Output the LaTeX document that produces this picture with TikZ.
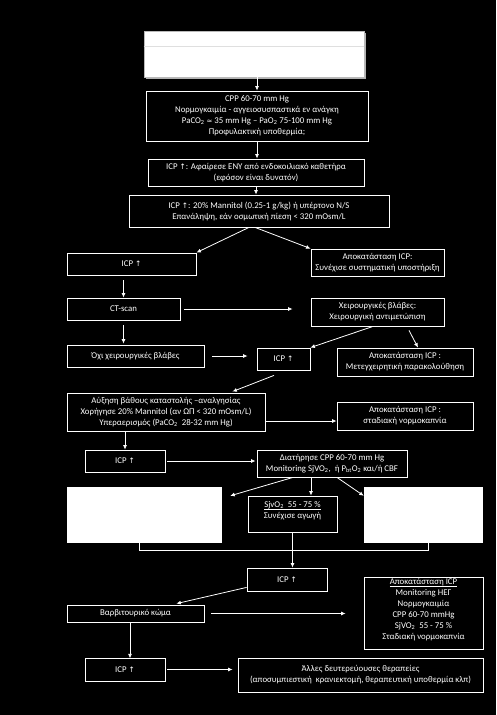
\documentclass[tikz,border=0pt]{standalone}
\usepackage{fontspec}
\setmainfont{Carlito}
\newfontfamily\arrowfont{DejaVu Sans}
\usepackage{tikz}
\usetikzlibrary{arrows.meta, positioning, calc}
\newcommand{\icpup}{ICP {\arrowfont\fontsize{7.5}{8}\selectfont ↑}}
\newcommand{\uln}[1]{\underline{\smash{#1}}}

\begin{document}
\begin{tikzpicture}[
    x=1pt, y=-1pt,
    >={Latex[length=4.5pt,width=4pt]},
    stepbox/.style={rectangle, draw=white, line width=0.8pt, fill=black, text=white, inner sep=0pt, align=center, font=\fontsize{8.8}{11}\selectfont},
    blank/.style={rectangle, draw=white, fill=white, inner sep=0pt},
    arr/.style={->, white, line width=0.8pt},
    link/.style={white, line width=0.8pt}
  ]

  \fill[black] (0,0) rectangle (496,715);

  % Title box
  \fill[gray!60] (146,33) rectangle (366,79);
  \node[rectangle, draw=gray!55, fill=white, line width=0.8pt, minimum width=220pt, minimum height=46pt] (title) at (254,54) {};
  \draw[gray!25, line width=0.8pt] ([yshift=8pt]title.west) -- ([yshift=8pt]title.east);

  % Main column
  \node[stepbox, minimum width=222pt, minimum height=50pt] (cpp) at (257,116) {CPP 60-70 mm Hg\\Νορμογκαιμία - αγγειοσυσπαστικά εν ανάγκη\\PaCO\textsubscript{2} {\arrowfont\fontsize{7}{8}\selectfont ≈} 35 mm Hg – PaO\textsubscript{2} 75-100 mm Hg\\Προφυλακτική υποθερμία;};
  \node[stepbox, minimum width=216pt, minimum height=27pt] (csf) at (256,172.5) {\icpup: Αφαίρεσε ΕΝΥ από ενδοκοιλιακό καθετήρα\\(εφόσον είναι δυνατόν)};
  \node[stepbox, minimum width=260pt, minimum height=32pt] (mannitol) at (259,211) {\icpup: 20\% Mannitol (0.25-1 g/kg) ή υπέρτονο N/S\\Επανάληψη, εάν οσμωτική πίεση < 320 mOsm/L};

  % ICP raised boxes
  \foreach \n/\x/\y/\w/\h in {icpA/131.5/264/129/22, icpB/283.5/359/53/22, icpC/125/461/80/22, icpD/287/579.5/80/23, icpE/125/669.5/80/23} {
    \node[stepbox, minimum width=\w pt, minimum height=\h pt] (\n) at (\x,\y) {\icpup};
  }

  % Left column
  \node[stepbox, minimum width=113pt, minimum height=22pt] (ct) at (123.5,309) {CT-scan};
  \node[stepbox, minimum width=137pt, minimum height=22pt] (nosurg) at (135.5,356) {Όχι χειρουργικές βλάβες};
  \node[stepbox, minimum width=198pt, minimum height=38pt] (deepen) at (166,412) {Αύξηση βάθους καταστολής –αναλγησίας\\Χορήγησε 20\% Mannitol (αν ΩΠ < 320 mOsm/L)\\Υπεραερισμός (PaCO\textsubscript{2}\ \ 28-32 mm Hg)};
  \node[stepbox, minimum width=137pt, minimum height=17pt] (barb) at (135.5,613.5) {Βαρβιτουρικό κώμα};

  % Right column
  \node[stepbox, minimum width=133pt, minimum height=27pt] (restoreA) at (377.5,262.5) {Αποκατάσταση ICP:\\Συνέχισε συστηματική υποστήριξη};
  \node[stepbox, minimum width=133pt, minimum height=28pt] (surg) at (377.5,312) {Χειρουργικές βλάβες:\\Χειρουργική αντιμετώπιση};
  \node[stepbox, minimum width=136pt, minimum height=28pt] (postop) at (405,362) {Αποκατάσταση ICP :\\Μετεγχειρητική παρακολούθηση};
  \node[stepbox, minimum width=136pt, minimum height=28pt] (normocap) at (405,416) {Αποκατάσταση ICP :\\σταδιακή νορμοκαπνία};
  \node[stepbox, minimum width=150pt, minimum height=27pt] (maintain) at (332,463.5) {Διατήρησε CPP 60-70 mm Hg\\Monitoring SjVO\textsubscript{2},\ \ ή P\textsubscript{bt}O\textsubscript{2} και/ή CBF};
  \node[stepbox, minimum width=119pt, minimum height=72pt] (restoreB) at (423.5,613) {\uln{Αποκατάσταση ICP}\\Monitoring ΗΕΓ\\Νορμογκαιμία\\CPP 60-70 mmHg\\SjVO\textsubscript{2}\ \ 55 - 75 \%\\Σταδιακή νορμοκαπνία};
  \node[stepbox, minimum width=245pt, minimum height=34pt] (other) at (360.5,675) {Άλλες δευτερεύουσες θεραπείες\\(αποσυμπιεστική\ \ κρανιεκτομή, θεραπευτική υποθερμία κλπ)};

  % SjvO2 row
  \node[blank, minimum width=154pt, minimum height=55pt] (whiteL) at (144,514.5) {};
  \node[stepbox, minimum width=89pt, minimum height=36pt] (sjvo) at (292.5,514) {\uln{SjvO\textsubscript{2}\ \ 55 - 75 \%}\\Συνέχισε αγωγή};
  \node[blank, minimum width=118pt, minimum height=55pt] (whiteR) at (423,514.5) {};

  % Arrows
  \draw[arr] (cpp.north |- title.south) -- (cpp.north);
  \draw[arr] (cpp.south) -- (cpp.south |- csf.north);
  \draw[arr] (csf.south) -- (csf.south |- mannitol.north);
  \draw[arr] ($(mannitol.south)+(-10,0)$) -- (icpA.north east);
  \draw[arr] ($(mannitol.south)+(-4,0)$) -- (restoreA.north west);
  \draw[arr, shorten <=5pt] (ct.north |- icpA.south) -- (ct.north);
  \draw[arr, shorten <=4pt, shorten >=18pt] (ct.east) -- (ct.east -| surg.west);
  \draw[arr, shorten <=5pt, shorten >=1pt] (ct.south) -- (ct.south |- nosurg.north);
  \draw[arr, shorten <=8pt, shorten >=9pt] (nosurg.east) -- (nosurg.east -| icpB.west);
  \draw[arr] ($(surg.south)+(-4.5,0)$) -- (icpB.north east);
  \draw[arr] ($(surg.south)+(31.5,4)$) -- ($(postop.north)+(13,0)$);
  \draw[arr] ($(icpB.south)+(-9.5,5)$) -- ($(deepen.north east)+(-33,-1)$);
  \draw[arr] ($(deepen.east)+(0,9)$) -- ($(normocap.west)+(0,5)$);
  \draw[arr] (icpC.north |- deepen.south) -- (icpC.north);
  \draw[arr, shorten <=2pt, shorten >=1pt] (icpC.east) -- (icpC.east -| maintain.west);
  \draw[arr] ($(maintain.south)+(-39,0)$) -- ($(whiteL.north east)+(9,9)$);
  \draw[arr] ($(maintain.south)+(-21,0)$) -- ($(sjvo.north)+(18.5,0)$);
  \draw[arr] ($(maintain.south)+(5,0)$) -- ($(whiteR.north west)+(0,9)$);
  \draw[link] ($(whiteL.south)+(-5,0)$) -- ++(0,8) -| ($(whiteR.south)+(5,0)$);
  \draw[arr] (sjvo.south) -- (sjvo.south |- icpD.north);
  \draw[arr] ($(icpD.south west)+(0,-4)$) -- ($(barb.north east)+(-28,-1)$);
  \draw[arr, shorten <=7pt, shorten >=18pt] (barb.east) -- (barb.east -| restoreB.west);
  \draw[arr] ($(barb.south)+(-5.5,0)$) -- ($(barb.south)+(-5.5,36)$);
  \draw[arr, shorten <=2pt, shorten >=5pt] (icpE.east) -- (icpE.east -| other.west);

\end{tikzpicture}
\end{document}
